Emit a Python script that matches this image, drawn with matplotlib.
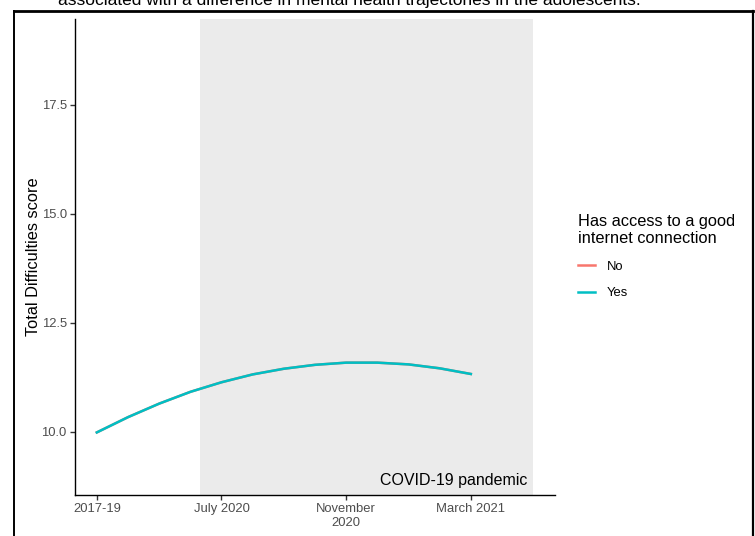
import matplotlib
matplotlib.use("Agg")
import matplotlib.pyplot as plt
from matplotlib.lines import Line2D
from matplotlib.patches import Rectangle

plt.rcParams['font.family'] = ['Liberation Sans', 'DejaVu Sans']

# ---- data ----
tick_labels = ["2017-19", "July 2020", "November\n2020", "March 2021"]
tick_pos = [1, 2, 3, 4]
time_pos = [1.0, 1.25, 1.5, 1.75, 2.0, 2.25, 2.5, 2.75, 3.0, 3.25, 3.5, 3.75, 4.0]
score_yes = [9.99, 10.34, 10.65, 10.92, 11.14, 11.32, 11.45, 11.54, 11.59, 11.59, 11.55, 11.46, 11.33]
score_no = [9.99, 10.34, 10.65, 10.92, 11.14, 11.32, 11.45, 11.54, 11.59, 11.59, 11.55, 11.46, 11.33]
series_names = ["No", "Yes"]
series_colors = ["#F8766D", "#00BFC4"]
pandemic_start, pandemic_end = 1.83, 4.5
y_ticks = [10.0, 12.5, 15.0, 17.5]

fig = plt.figure(figsize=(7.55, 5.36), dpi=100)
ax = fig.add_axes([75/755, 1 - 495/536, (555 - 75)/755, (495 - 19)/536])

ax.add_patch(Rectangle((pandemic_start, -100), pandemic_end - pandemic_start, 200,
                       facecolor="#EBEBEB", edgecolor="none", zorder=0))
ax.plot(time_pos, score_no, color=series_colors[0], lw=1.8, label=series_names[0], zorder=2)
ax.plot(time_pos, score_yes, color=series_colors[1], lw=1.8, label=series_names[1], zorder=3,
        solid_joinstyle="round")

ax.text(pandemic_end - 0.05, 8.555 + 0.15, "COVID-19 pandemic", ha="right", va="bottom",
        fontsize=11.5, color="black", zorder=4)

ax.set_xlim(0.825, 4.675)
ax.set_ylim(8.555, 19.47)
ax.set_xticks(tick_pos)
ax.set_xticklabels(tick_labels)
ax.set_yticks(y_ticks)
ax.set_yticklabels([f"{v:.1f}" for v in y_ticks])
ax.tick_params(axis="both", colors="#333333", labelcolor="#4D4D4D", labelsize=9.4,
               length=3.5, width=1.0, pad=2.5)
for s in ["top", "right"]:
    ax.spines[s].set_visible(False)
for s in ["left", "bottom"]:
    ax.spines[s].set_color("black")
    ax.spines[s].set_linewidth(1.0)
ax.set_ylabel("Total Difficulties score", fontsize=11.8, color="black", labelpad=0)

leg = ax.legend(title="Has access to a good\ninternet connection", loc="upper left",
                bbox_to_anchor=(0.766, 0.601), bbox_transform=fig.transFigure,
                frameon=False, fontsize=9.4, title_fontsize=11.8, handlelength=1.3,
                handletextpad=0.9, labelspacing=1.1, borderpad=0, borderaxespad=0)
leg._legend_box.align = "left"

# surrounding document frame and cut-off caption
fig.add_artist(Line2D([14/755, 14/755], [0, 1 - 11/536], color="black", lw=1.4,
                      transform=fig.transFigure))
fig.add_artist(Line2D([14/755, 753/755], [1 - 11/536, 1 - 11/536], color="black", lw=2.0,
                      transform=fig.transFigure))
fig.add_artist(Line2D([753/755, 753/755], [0, 1 - 11/536], color="black", lw=1.6,
                      transform=fig.transFigure))
fig.text(58/755, 1 - 5/536, "associated with a difference in mental health trajectories in the adolescents.",
         ha="left", va="baseline", fontsize=12.5, color="black")

fig.savefig("out.png", dpi=100)
